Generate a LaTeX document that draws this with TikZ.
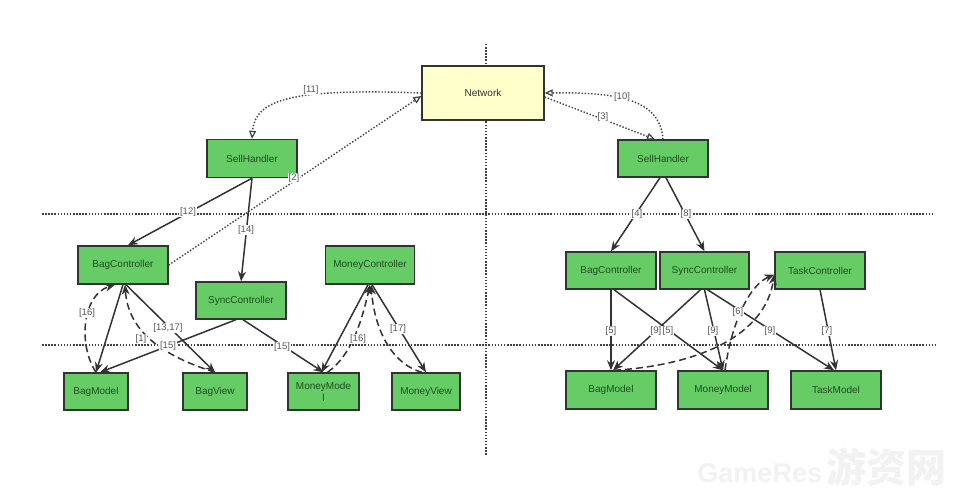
\documentclass[tikz,border=0pt]{standalone}
\usepackage{fontspec}
\setmainfont{Liberation Sans}
\newfontfamily\cjk{Noto Sans CJK SC}
\usetikzlibrary{arrows.meta}
\definecolor{boxgreen}{HTML}{66CC66}
\definecolor{boxyellow}{HTML}{FFFFCC}
\definecolor{txtgreen}{HTML}{1E4D1E}
\definecolor{lblgray}{HTML}{555555}
\begin{document}
\begin{tikzpicture}[x=1pt, y=-1pt,
  box/.style={rectangle, draw=black!80, line width=1.4pt, fill=boxgreen, text=txtgreen, font=\fontsize{10}{12}\selectfont, align=center, inner sep=0pt, minimum width=90pt, minimum height=38pt},
  lbl/.style={fill=white, text=lblgray, font=\fontsize{9.5}{11}\selectfont, inner sep=0.6pt},
  arr/.style={line width=1.5pt, draw=black!80, -{Stealth[length=10pt, width=8pt]}},
  dasharr/.style={arr, dash pattern=on 7pt off 4pt},
  dotarr/.style={line width=1.4pt, draw=black!75, dash pattern=on 1.4pt off 1.8pt, -{Triangle[open, length=8pt, width=7pt, line width=1.2pt]}},
  sep/.style={line width=1.5pt, black!75, dash pattern=on 1.5pt off 1.6pt}]

\fill[white] (0,0) rectangle (979,500);
\useasboundingbox (0,0) rectangle (979,500);

\draw[sep] (42,214) -- (932,214);
\draw[sep] (42,345) -- (935,345);
\draw[sep] (486,44) -- (486,455);

\node[box, fill=boxyellow, text=black!80, minimum width=122pt, minimum height=54pt] (net) at (483,93) {Network};

\node[box] (lsell) at (252,158.5) {SellHandler};
\node[box] (lbc) at (123,265) {BagController};
\node[box, minimum height=37pt] (lsync) at (241,300.5) {SyncController};
\node[box, minimum width=89pt] (lmc) at (370,265) {MoneyController};
\node[box, minimum width=64pt, minimum height=37pt] (lbm) at (96,391.5) {BagModel};
\node[box, minimum width=64pt, minimum height=37pt] (lbv) at (215,391.5) {BagView};
\node[box, minimum width=71pt, minimum height=37pt] (lmm) at (323.5,391.5) {MoneyMode\\l};
\node[box, minimum width=68pt, minimum height=37pt] (lmv) at (426,391.5) {MoneyView};

\node[box, minimum height=37pt] (rsell) at (663,158.5) {SellHandler};
\node[box, minimum height=37pt] (rbc) at (611,270.5) {BagController};
\node[box, minimum width=89pt, minimum height=37pt] (rsync) at (704.5,270.5) {SyncController};
\node[box, minimum height=37pt] (rtc) at (820,270.5) {TaskController};
\node[box] (rbm) at (611,390) {BagModel};
\node[box] (rmm) at (723,390) {MoneyModel};
\node[box] (rtm) at (836,390) {TaskModel};

\draw[dotarr] (net.west) .. controls (290,88) and (255,100) .. (lsell.north);
\draw[dotarr] (lbc.east) -- ([yshift=-3pt]net.west);
\draw[arr] (lsell.south) -- ([xshift=5pt]lbc.north);
\draw[arr] (lsell.south) -- (lsync.north);
\draw[arr] (lbc.south) -- (lbm.north);
\draw[dasharr] (lbm.north) .. controls (78,345) and (82,295) .. ([xshift=-8pt]lbc.south);
\draw[dasharr] (lbv.north) .. controls (160,355) and (128,330) .. ([xshift=2pt]lbc.south);
\draw[arr] ([xshift=3pt]lbc.south) -- (lbv.north);
\draw[arr] ([xshift=-5pt]lsync.south) -- ([xshift=4pt]lbm.north);
\draw[arr] ([xshift=2pt]lsync.south) -- (lmm.north);
\draw[arr] ([xshift=-2pt]lmc.south) -- ([xshift=-2pt]lmm.north);
\draw[dasharr] ([xshift=4pt]lmm.north) .. controls (352,355) and (362,320) .. (lmc.south);
\draw[arr] ([xshift=2pt]lmc.south) -- (lmv.north);
\draw[dasharr] ([xshift=-4pt]lmv.north) .. controls (395,365) and (375,335) .. ([xshift=1pt]lmc.south);

\draw[dotarr] (rsell.north) .. controls (660,100) and (620,92) .. (net.east);
\draw[dotarr] ([yshift=-4pt]net.east) -- ([xshift=-8pt]rsell.north);
\draw[arr] ([xshift=-3pt]rsell.south) -- (rbc.north);
\draw[arr] ([xshift=3pt]rsell.south) -- (rsync.north);
\draw[arr] (rbc.south) -- (rbm.north);
\draw[arr] ([xshift=3pt]rbc.south) -- (rmm.north);
\draw[arr] ([xshift=-4pt]rsync.south) -- ([xshift=2pt]rbm.north);
\draw[arr] (rsync.south) -- (rmm.north);
\draw[arr] ([xshift=3pt]rsync.south) -- ([xshift=-2pt]rtm.north);
\draw[arr] (rtc.south) -- (rtm.north);
\draw[dasharr] ([xshift=3pt]rbm.north) .. controls (700,365) and (765,335) .. ([yshift=-4pt]rtc.west);
\draw[dasharr] ([xshift=2pt]rmm.north) .. controls (732,320) and (750,285) .. ([yshift=-4pt]rtc.west);

\node[lbl] (t11) at (311,90) {[11]};
\node[lbl] (t2) at (294,178) {[2]};
\node[lbl] (t12) at (188,212) {[12]};
\node[lbl] (t14) at (246,230) {[14]};
\node[lbl] (t16a) at (87,313) {[16]};
\node[lbl] (t1317) at (168,328) {[13,17]};
\node[lbl] (t1) at (141,339) {[1]};
\node[lbl] (t15a) at (168,346) {[15]};
\node[lbl] (t15b) at (282,347) {[15]};
\node[lbl] (t16b) at (358,339) {[16]};
\node[lbl] (t17) at (398,329) {[17]};

\node[lbl] (t10) at (622,97) {[10]};
\node[lbl] (t3) at (603,117) {[3]};
\node[lbl] (t4) at (637,214) {[4]};
\node[lbl] (t8) at (686,214) {[8]};
\node[lbl] (t5a) at (611,331) {[5]};
\node[lbl] (t9a) at (656,331) {[9]};
\node[lbl] (t5b) at (668,331) {[5]};
\node[lbl] (t9b) at (713,331) {[9]};
\node[lbl] (t6) at (738,312) {[6]};
\node[lbl] (t9c) at (770,331) {[9]};
\node[lbl] (t7) at (827,331) {[7]};

\node[text=gray!10, font=\bfseries\fontsize{27}{30}\selectfont, inner sep=0pt] (wm) at (822,467) {GameRes\,{\cjk\fontsize{40}{44}\selectfont 游资网}};

\end{tikzpicture}
\end{document}
